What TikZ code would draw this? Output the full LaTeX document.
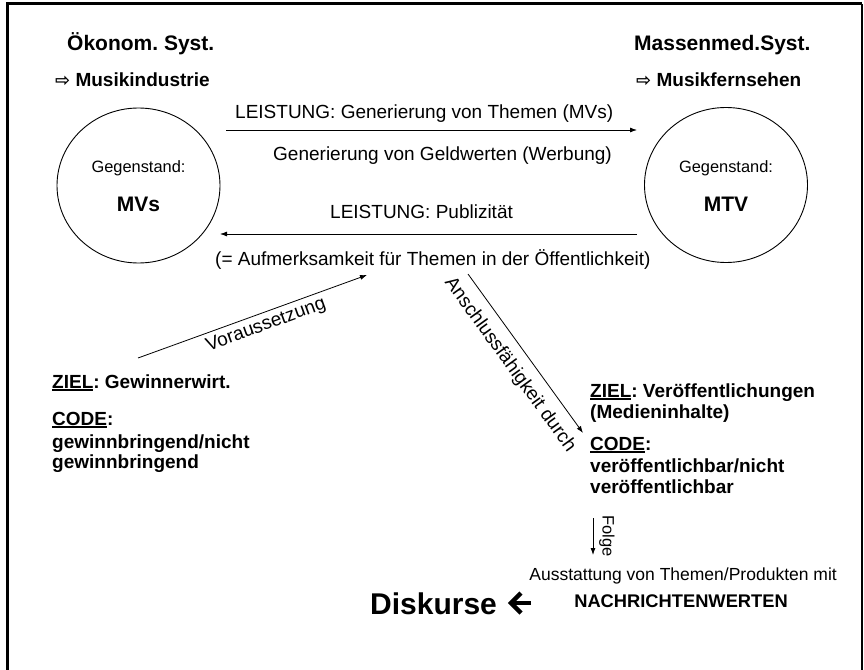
\documentclass[tikz,border=0pt]{standalone}
\usepackage{fontspec}
\setmainfont{Liberation Sans}
\newfontfamily\djv{DejaVu Sans}
\usetikzlibrary{arrows.meta,shapes.geometric}
\frenchspacing
\newcommand\fs[1]{\fontsize{#1}{#1}\selectfont}
\newcommand\ulbox[1]{\setbox0\hbox{#1}\rlap{\rule[-2.6pt]{\wd0}{1.4pt}}\box0}
\tikzset{
  txt/.style={inner sep=0pt, anchor=base west},
  reg/.style={txt, font=\fs{19}},
  bld/.style={txt, font=\fs{19}\bfseries},
  head/.style={txt, font=\fs{21}\bfseries},
  obj/.style={draw, ellipse, minimum width=163pt, minimum height=155pt, line width=0.9pt, inner sep=0pt},
  arr/.style={-{Latex[length=7pt,width=5pt]}, line width=0.8pt},
  lbl/.style={font=\fs{19}, sloped, inner sep=4pt},
}
\begin{document}
\begin{tikzpicture}[x=1pt,y=-1pt]
\useasboundingbox (0,0) rectangle (864,669);
% frame
\draw[line width=3pt] (7,700) -- (7,4) -- (862,4);
\draw[line width=2pt] (862,4) -- (862,700);

% headings
\node[head] (oek) at (67,51) {Ökonom. Syst.};
\node[bld] (mi) at (55,86) {{\djv\fontsize{18}{18}\selectfont ⇨}\ Musikindustrie};
\node[head] (mm) at (634,51) {Massenmed.Syst.};
\node[bld] (mf) at (636,86) {{\djv\fontsize{18}{18}\selectfont ⇨}\ Musikfernsehen};

% circles
\node[obj] (mvs) at (138.5,185.5) {};
\node[inner sep=0pt, anchor=base, font=\fs{16.4}] (g1) at (138.5,172) {Gegenstand:};
\node[inner sep=0pt, anchor=base, font=\fs{21}\bfseries] (mvst) at (138.5,211) {MVs};
\node[obj] (mtv) at (726,185) {};
\node[inner sep=0pt, anchor=base, font=\fs{16.4}] (g2) at (726,172) {Gegenstand:};
\node[inner sep=0pt, anchor=base, font=\fs{21}\bfseries] (mtvt) at (726,211) {MTV};

% middle texts
\node[reg] (l1) at (235,118) {LEISTUNG: Generierung von Themen (MVs)};
\node[reg] (l2) at (273,160) {Generierung von Geldwerten (Werbung)};
\node[reg] (l3) at (330,218) {LEISTUNG: Publizität};
\node[reg] (l4) at (215,265) {(= Aufmerksamkeit für Themen in der Öffentlichkeit)};

\coordinate (a1s) at (226,130);
\coordinate (a1e) at (637,130);
\coordinate (a2s) at (637,234);
\coordinate (a2e) at (220,234);
\draw[arr] (a1s) -- (a1e);
\draw[arr] (a2s) -- (a2e);

% left block
\node[bld] (zl1) at (52,388) {\ulbox{ZIEL}: Gewinnerwirt.};
\node[bld] (zl2) at (52,425) {\ulbox{CODE}:};
\node[bld] (zl3) at (52,448) {gewinnbringend/nicht};
\node[bld] (zl4) at (52,468) {gewinnbringend};

% right block
\node[bld] (zr1) at (590,397) {\ulbox{ZIEL}: Veröffentlichungen};
\node[bld] (zr2) at (590,418) {(Medieninhalte)};
\node[bld] (zr3) at (590,450) {\ulbox{CODE}:};
\node[bld] (zr4) at (590,472) {veröffentlichbar/nicht};
\node[bld] (zr5) at (590,493) {veröffentlichbar};

% diagonal arrows
\coordinate (v1) at (138,358);
\coordinate (v2) at (367,275);
\draw[arr] (v1) -- (v2) node[lbl, pos=0.54, below] (vlab) {Voraussetzung};
\coordinate (s1) at (468,274);
\coordinate (s2) at (583,433);
\draw[arr] (s1) -- (s2) node[lbl, pos=0.5, below, inner sep=10pt] (slab) {Anschlussfähigkeit durch};

% Folge
\coordinate (f1) at (593,518);
\coordinate (f2) at (593,555);
\draw[arr] (f1) -- (f2);
\node[font=\fs{16.5}, rotate=-90, inner sep=0pt] (folge) at (607,536) {Folge};

\node[inner sep=0pt, anchor=base east, font=\fs{17.5}] (aus) at (837,580) {Ausstattung von Themen/Produkten mit};
\node[inner sep=0pt, anchor=base east, font=\fs{18.3}\bfseries] (nw) at (788,607) {NACHRICHTENWERTEN};

% Diskurse
\node[inner sep=0pt, anchor=base west, font=\fs{30}\bfseries] (disk) at (370,614) {Diskurse};
\coordinate (dk1) at (531,603);
\coordinate (dk2) at (511,603);
\draw[line width=4.5pt] (dk1) -- (dk2);
\draw[line width=4.5pt, miter limit=10] ([shift={(10,-10)}]dk2) -- (dk2) -- ([shift={(10,10)}]dk2);
\end{tikzpicture}
\end{document}
